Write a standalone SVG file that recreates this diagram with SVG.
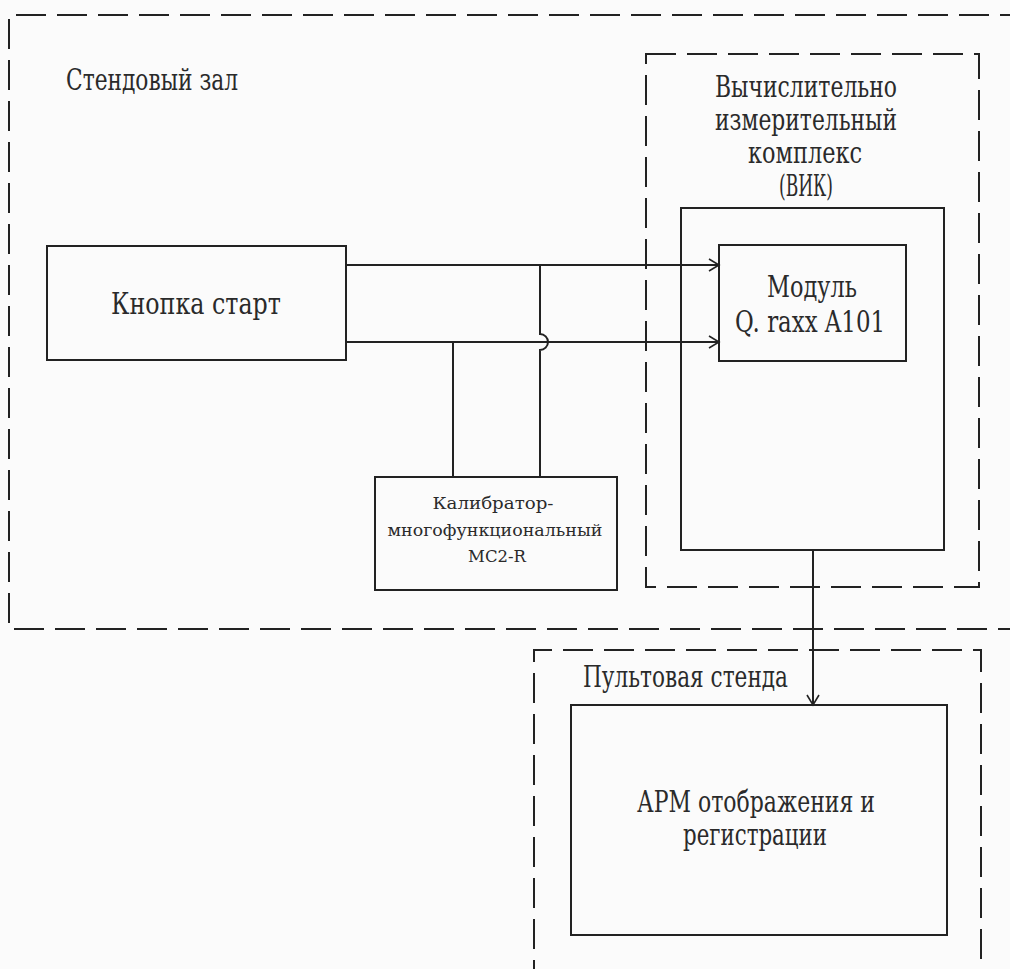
<svg xmlns="http://www.w3.org/2000/svg" width="1010" height="969" viewBox="0 0 1010 969">
<style>
.dash{fill:none;stroke:#222;stroke-width:2;stroke-dasharray:30 11}
.box{fill:none;stroke:#222;stroke-width:2}
.ln{fill:none;stroke:#222;stroke-width:2}
text{font-family:"DejaVu Serif","Liberation Serif",serif;fill:#2a2a2a}
.t{font-size:29px}
.s{font-size:17px}
</style>
<defs>
<marker id="arr" markerWidth="14" markerHeight="14" refX="12" refY="7" orient="auto" markerUnits="userSpaceOnUse">
<path d="M2,1 L12,7 L2,13" fill="none" stroke="#222" stroke-width="1.6"/>
</marker>
</defs>
<rect width="1010" height="969" fill="#fbfbfb"/>
<g id="stend-zal">
<path class="dash" d="M1030,15 L9,15 L9,629 L1030,629"/>
<text class="t" x="66" y="90" textLength="172" lengthAdjust="spacingAndGlyphs">Стендовый зал</text>
</g>
<g id="vik">
<rect class="dash" x="646" y="54" width="333" height="533"/>
<text class="t" text-anchor="middle" x="806" y="97" textLength="182" lengthAdjust="spacingAndGlyphs">Вычислительно</text>
<text class="t" text-anchor="middle" x="806" y="130" textLength="182" lengthAdjust="spacingAndGlyphs">измерительный</text>
<text class="t" text-anchor="middle" x="805" y="163" textLength="114" lengthAdjust="spacingAndGlyphs">комплекс</text>
<text class="t" text-anchor="middle" x="806" y="196" textLength="54" lengthAdjust="spacingAndGlyphs">(ВИК)</text>
<rect class="box" x="681" y="208" width="263" height="342"/>
</g>
<g id="module">
<rect class="box" x="719" y="245" width="187" height="116"/>
<text class="t" text-anchor="middle" x="812" y="297" textLength="90" lengthAdjust="spacingAndGlyphs">Модуль</text>
<text class="t" text-anchor="middle" x="810" y="332" textLength="150" lengthAdjust="spacingAndGlyphs">Q. raxx A101</text>
</g>
<g id="knopka">
<rect class="box" x="47" y="246" width="299" height="114"/>
<text class="t" text-anchor="middle" x="196" y="314" textLength="170" lengthAdjust="spacingAndGlyphs">Кнопка старт</text>
</g>
<g id="calibrator">
<rect class="box" x="375" y="477" width="242" height="113"/>
<text class="s" text-anchor="middle" x="493" y="509" textLength="121" lengthAdjust="spacingAndGlyphs">Калибратор-</text>
<text class="s" text-anchor="middle" x="495" y="536" textLength="215" lengthAdjust="spacingAndGlyphs">многофункциональный</text>
<text class="s" text-anchor="middle" x="497" y="562" textLength="58" lengthAdjust="spacingAndGlyphs">MC2-R</text>
</g>
<g id="pult">
<path class="dash" d="M534,990 L534,650 L981,650 L981,990"/>
<text class="t" x="583" y="687" textLength="205" lengthAdjust="spacingAndGlyphs">Пультовая стенда</text>
</g>
<g id="arm">
<rect class="box" x="571" y="705" width="376" height="230"/>
<text class="t" text-anchor="middle" x="756" y="812" textLength="238" lengthAdjust="spacingAndGlyphs">АРМ отображения и</text>
<text class="t" text-anchor="middle" x="755" y="845" textLength="144" lengthAdjust="spacingAndGlyphs">регистрации</text>
</g>
<g id="connectors">
<path class="ln" d="M346,265 L719,265" marker-end="url(#arr)"/>
<path class="ln" d="M346,342 L719,342" marker-end="url(#arr)"/>
<path class="ln" d="M540,265 L540,334 A8,8 0 0 1 540,350 L540,477"/>
<path class="ln" d="M453,342 L453,477"/>
<path class="ln" d="M813,550 L813,705" marker-end="url(#arr)"/>
</g>
</svg>
